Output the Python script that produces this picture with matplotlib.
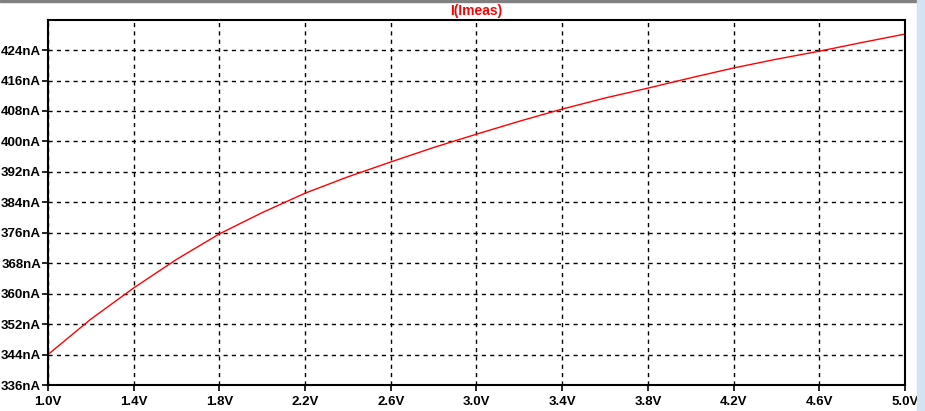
import numpy as np
import matplotlib.pyplot as plt
from matplotlib.patches import Rectangle

# Sweep voltage (V) and measured current (nA)
v = [1.0, 1.2, 1.4, 1.6, 1.8, 2.0, 2.2, 2.4, 2.6, 2.8, 3.0,
     3.2, 3.4, 3.6, 3.8, 4.0, 4.2, 4.4, 4.6, 4.8, 5.0]
i_meas = [344.0, 353.3, 361.5, 369.0, 375.7, 381.3, 386.4, 390.7, 394.6, 398.4, 401.9,
          405.3, 408.5, 411.4, 414.0, 416.7, 419.3, 421.6, 423.7, 426.0, 428.2]

xticks = np.arange(1.0, 5.01, 0.4)
yticks = np.arange(336, 425, 8)

plt.rcParams['font.family'] = ['Liberation Sans', 'DejaVu Sans']

W, H = 925, 411
fig = plt.figure(figsize=(W / 100, H / 100), dpi=100)
fig.patch.set_facecolor('white')

# window decorations
fig.patches.append(Rectangle((0, 1 - 2 / H), 917 / W, 2 / H, transform=fig.transFigure,
                             color='#808080', zorder=0))
fig.patches.append(Rectangle((917 / W, 0), 8 / W, 1, transform=fig.transFigure,
                             color='#d4e3f4', zorder=0))

ax = fig.add_axes([48 / W, (H - 385) / H, (905 - 48) / W, (385 - 20) / H])
ax.plot(v, i_meas, color='red', lw=1.0)

ax.set_xlim(1.0, 5.0)
ax.set_ylim(336, 431.9)
ax.set_xticks(xticks)
ax.set_xticklabels([f'{t:.1f}V' for t in xticks])
ax.set_yticks(yticks)
ax.set_yticklabels([f'{t}nA' for t in yticks])

ax.grid(True, color='black', linestyle=(0, (3, 3)), lw=1.0)
ax.tick_params(length=4, width=1.2, color='black', labelsize=9.5)
ax.tick_params(axis='x', pad=4)
ax.tick_params(axis='y', pad=1)
for lab in ax.get_xticklabels() + ax.get_yticklabels():
    lab.set_fontweight('bold')
for s in ax.spines.values():
    s.set_linewidth(1.5)

fig.text((48 + 905) / 2 / W, 1 - 11 / H, 'I(Imeas)', color='red', fontsize=10,
         fontweight='bold', ha='center', va='center')

fig.savefig('out.png', dpi=100)
